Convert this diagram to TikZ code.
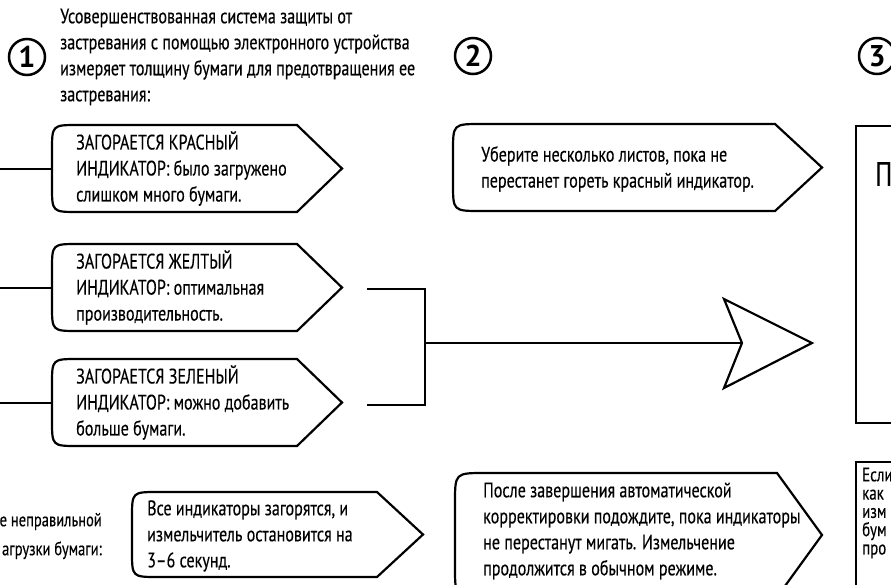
\documentclass[tikz,border=0pt]{standalone}
\usepackage{fontspec}
\setmainfont[FakeStretch=0.765,FakeBold=0.3]{PT Sans}
\newfontfamily\numfont{PT Sans}
\newcommand\tagpath[7]{% name, x1, y1, xf, xt, y2, r
  \draw[boxline] (#4,#3) -- (#5,{(#3+#6)/2}) -- (#4,#6) -- ({#2+#7},#6)
     .. controls (#2,#6) .. (#2,{#6-#7}) -- (#2,{#3+#7})
     .. controls (#2,#3) .. ({#2+#7},#3) -- cycle;
  \coordinate (#1W) at (#2,{(#3+#6)/2});
  \coordinate (#1E) at (#5,{(#3+#6)/2});}
\begin{document}
\begin{tikzpicture}[x=1pt,y=-1pt,
  boxline/.style={draw=black,line width=2.2pt,line join=miter},
  conn/.style={draw=black,line width=2pt},
  txt/.style={inner sep=0pt,align=left,anchor=west,font=\fontsize{21}{26}\selectfont},
  smalltxt/.style={inner sep=0pt,align=left,anchor=west,font=\fontsize{19.5}{18.3}\selectfont},
  numcirc/.style={circle,draw=black,line width=2.5pt,minimum size=36pt,inner sep=0pt,font=\numfont\bfseries\fontsize{30}{30}\selectfont}]
\useasboundingbox (0,0) rectangle (891,584);

% step circles
\node[numcirc] (n1) at (27,57) {1};
\node[numcirc] (n2) at (473,56) {2};
\node[numcirc] (n3) at (877,56) {3};

% header text
\node[txt] (head) at (60,57) {Усовершенствованная система защиты от\\застревания с помощью электронного устройства\\измеряет толщину бумаги для предотвращения ее\\застревания:};

% column 1 boxes
\tagpath{red}{52}{125}{297}{342}{212}{26}
\node[txt] (tR) at (76,168.5) {ЗАГОРАЕТСЯ КРАСНЫЙ\\ИНДИКАТОР: было загружено\\слишком много бумаги.};
\tagpath{yel}{52}{244}{297}{342}{331}{26}
\node[txt] (tY) at (76,287.5) {ЗАГОРАЕТСЯ ЖЕЛТЫЙ\\ИНДИКАТОР: оптимальная\\производительность.};
\tagpath{grn}{52}{359}{297}{342}{446}{26}
\node[txt] (tG) at (76,402.5) {ЗАГОРАЕТСЯ ЗЕЛЕНЫЙ\\ИНДИКАТОР: можно добавить\\больше бумаги.};

\coordinate (inR) at (0,168.5);
\coordinate (inY) at (0,287.5);
\coordinate (inG) at (0,402.5);
\draw[conn] (inR) -- (redW);
\draw[conn] (inY) -- (yelW);
\draw[conn] (inG) -- (grnW);

% bracket and arrow
\coordinate (bY) at (367,289);
\coordinate (bG) at (367,405);
\coordinate (bM) at (425,343);
\coordinate (aN) at (742,343);
\draw[conn,line join=miter] (bY) -- (425,289) -- (425,405) -- (bG);
\draw[conn] (bM) -- (aN);
\draw[boxline] (724,299) -- (812,343) -- (724,388) -- (aN) -- cycle;

% column 2
\tagpath{rem}{453}{124}{775}{822}{211}{28}
\node[txt] (tRem) at (481,169) {Уберите несколько листов, пока не\\перестанет гореть красный индикатор.};

\tagpath{all}{132}{492}{377}{423}{577}{26}
\node[txt] (tAll) at (147,536) {Все индикаторы загорятся, и\\измельчитель остановится на\\3–6 секунд.};

\node[txt,align=right,anchor=east,font=\fontsize{19}{29}\selectfont] (tLeft) at (102,536) {е неправильной\\агрузки бумаги:};

\tagpath{aft}{455}{473}{777}{822}{597}{30}
\node[txt] (tAft) at (483,531) {После завершения автоматической\\корректировки подождите, пока индикаторы\\не перестанут мигать. Измельчение\\продолжится в обычном режиме.};

% column 3
\draw[boxline] (900,126) -- (856,126) -- (856,423) -- (900,423);
\node[inner sep=0pt,anchor=west,font=\fontsize{34}{34}\selectfont] (tP) at (875,174) {П};
\draw[boxline] (900,462) -- (856,462) -- (856,600);
\node[smalltxt] (tIf) at (862,513) {Если\\как\\изм\\бум\\про};
\end{tikzpicture}
\end{document}
